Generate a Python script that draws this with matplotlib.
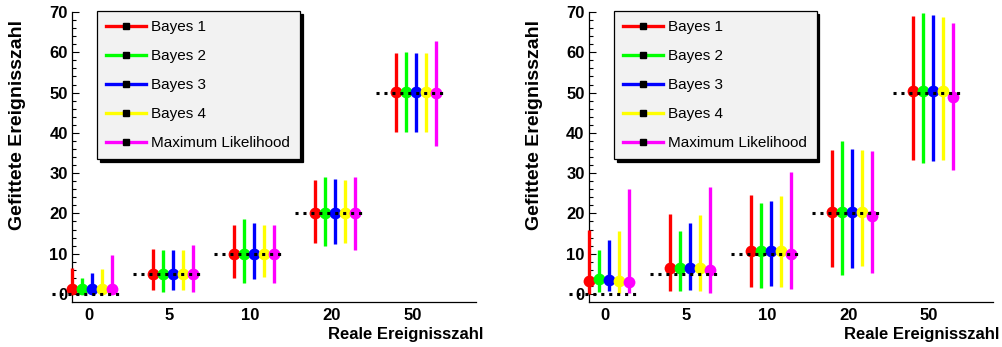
import numpy as np
import matplotlib
matplotlib.use('Agg')
import matplotlib.pyplot as plt
from matplotlib.lines import Line2D

plt.rcParams['font.family'] = ['Liberation Sans', 'DejaVu Sans']

true_counts = [0, 5, 10, 20, 50]
tick_labels = ['0', '5', '10', '20', '50']
names = ['Bayes 1', 'Bayes 2', 'Bayes 3', 'Bayes 4', 'Maximum Likelihood']
colors = ['#ff0000', '#00ff00', '#0000ff', '#ffff00', '#ff00ff']

# left panel: fitted value, lower and upper end of the error bar
left_val = [[1.3, 5.0, 10.0, 20.2, 50.2],
            [1.3, 5.0, 10.0, 20.2, 50.2],
            [1.3, 5.0, 10.0, 20.2, 50.2],
            [1.3, 5.0, 10.0, 20.2, 50.2],
            [1.3, 5.0, 10.0, 20.0, 49.9]]
left_lo = [[0.0, 1.0, 4.0, 12.6, 40.3],
           [0.0, 0.5, 2.8, 12.0, 40.2],
           [0.0, 0.9, 3.8, 12.4, 40.3],
           [0.0, 1.1, 4.1, 12.6, 40.3],
           [0.0, 0.5, 2.8, 10.9, 36.8]]
left_hi = [[6.4, 11.1, 17.0, 28.3, 59.9],
           [4.0, 11.0, 18.7, 29.0, 60.1],
           [5.2, 10.8, 17.5, 28.5, 59.9],
           [6.1, 10.9, 17.1, 28.3, 59.9],
           [9.6, 12.2, 17.0, 29.0, 62.7]]

# right panel
right_val = [[3.3, 6.5, 10.7, 20.3, 50.4],
             [3.6, 6.5, 10.7, 20.3, 50.4],
             [3.5, 6.5, 10.7, 20.3, 50.4],
             [3.3, 6.5, 10.7, 20.3, 50.4],
             [3.0, 6.0, 9.9, 19.4, 49.0]]
right_lo = [[0.0, 0.8, 1.8, 6.8, 33.3],
            [0.6, 0.8, 1.4, 4.7, 32.4],
            [0.8, 1.0, 2.0, 6.4, 33.0],
            [0.2, 0.8, 1.8, 7.0, 33.3],
            [0.2, 0.3, 1.2, 5.1, 30.8]]
right_hi = [[15.9, 19.8, 24.6, 35.7, 69.0],
            [10.9, 15.7, 22.5, 38.0, 69.7],
            [13.4, 17.6, 23.2, 36.1, 69.2],
            [15.6, 19.5, 24.3, 35.7, 68.8],
            [26.0, 26.5, 30.3, 35.5, 67.3]]

fig = plt.figure(figsize=(10.02, 3.47), dpi=100)
W, H = 1002., 347.


def panel(x0px, vals, los, his):
    ax = fig.add_axes([x0px / W, 45 / H, 404 / W, 290 / H])
    pos = np.arange(len(true_counts))
    offsets = np.array([-2, -1, 0, 1, 2]) * 0.1235
    # dotted reference lines at the true counts
    for p, t in zip(pos, true_counts):
        ax.plot([p, p + 0.87], [t, t], color='k', lw=2.2,
                linestyle=(0, (1.0, 1.6)), clip_on=False, zorder=5)
    for k in range(5):
        v = np.array(vals[k])
        lo = np.array(los[k])
        hi = np.array(his[k])
        eb = ax.errorbar(pos + 0.5 + offsets[k], v, yerr=[v - lo, hi - v],
                         fmt='o', color=colors[k], ms=8.5, mew=0,
                         elinewidth=2.4, capsize=0, zorder=3)
        eb[0].set_clip_on(False)
        for c in eb[2]:
            c.set_clip_on(False)
    ax.set_xlim(0.247, 5.235)
    ax.set_ylim(-2, 70)
    ax.set_xticks(pos + 0.45)
    ax.set_xticklabels(tick_labels, fontsize=12, fontweight='bold')
    ax.tick_params(axis='x', length=0, pad=4)
    ax.set_yticks(np.arange(0, 71, 10))
    ax.set_yticks(np.arange(0, 71, 2), minor=True)
    ax.set_yticklabels([str(t) for t in range(0, 71, 10)],
                       fontsize=12, fontweight='bold')
    ax.tick_params(axis='y', which='major', direction='in', length=5,
                   width=0.8, pad=3)
    ax.tick_params(axis='y', which='minor', direction='in', length=2.6,
                   width=0.8)
    ax.spines['top'].set_visible(False)
    ax.spines['right'].set_visible(False)
    for s in ['left', 'bottom']:
        ax.spines[s].set_linewidth(0.9)

    handles = [Line2D([0], [0], color=c, lw=2.4, marker='s', mfc='k',
                      mec='k', ms=4) for c in colors]
    leg = ax.legend(handles, names, loc='upper left',
                    bbox_to_anchor=(0.062, 0.501, 0.502, 0.503),
                    mode='expand', borderaxespad=0, fontsize=11,
                    handlelength=2.6, handletextpad=0.35, labelspacing=0.98,
                    borderpad=0.6, fancybox=False, framealpha=1,
                    shadow={'color': 'k', 'alpha': 1})
    leg.get_frame().set_facecolor('#f2f2f2')
    leg.get_frame().set_edgecolor('k')
    leg.get_frame().set_linewidth(0.9)
    leg.set_zorder(10)

    fig.text((x0px - 54) / W, 1 - 20 / H, 'Gefittete Ereignisszahl',
             rotation=90, ha='center', va='top', fontsize=14,
             fontweight='bold')
    fig.text((x0px + 411) / W, 1 - 334 / H, 'Reale Ereignisszahl',
             ha='right', va='center', fontsize=12, fontweight='bold')
    return ax


panel(72, left_val, left_lo, left_hi)
panel(588.7, right_val, right_lo, right_hi)

plt.savefig('out.png', dpi=100)
